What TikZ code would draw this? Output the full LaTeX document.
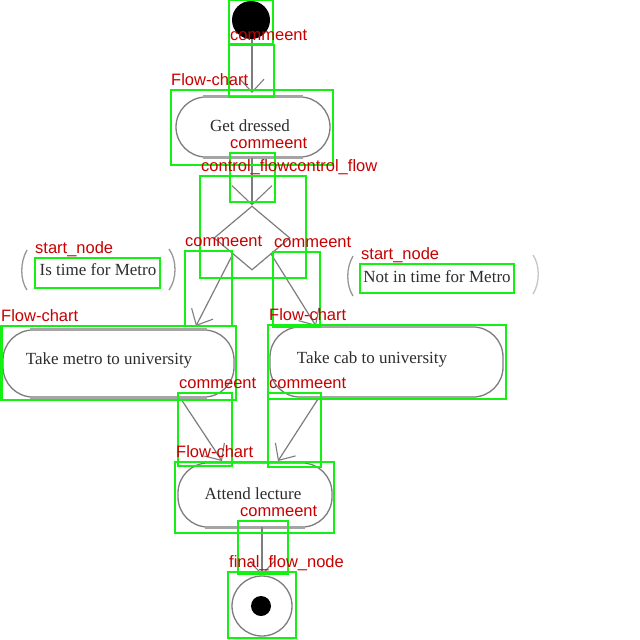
\documentclass[tikz,border=0pt]{standalone}
\usepackage{fontspec}
\setmainfont{Liberation Serif}
\newfontfamily\labfont{Liberation Sans}
\usetikzlibrary{shapes.geometric,arrows.meta}
\definecolor{annG}{RGB}{20,240,20}
\definecolor{annR}{RGB}{200,0,0}
\definecolor{lineG}{RGB}{125,125,125}
\definecolor{shadG}{RGB}{165,165,165}
\definecolor{txtG}{RGB}{45,45,45}
\begin{document}
\begin{tikzpicture}[x=1pt,y=-1pt,
  stad/.style={draw=lineG, line width=1.3pt, rounded corners=30pt, inner sep=0pt},
  shad/.style={draw=shadG, line width=3pt},
  dtext/.style={text=txtG, font=\fontsize{17}{18}\selectfont, inner sep=0pt},
  flow/.style={draw=lineG, line width=1.2pt, -{Straight Barb[length=13pt,width=24pt,line width=1.1pt]}},
  bigflow/.style={draw=lineG, line width=1.2pt, -{Straight Barb[length=19pt,width=40pt,line width=1.1pt]}},
  brk/.style={draw=lineG!80, line width=1.3pt},
  annbox/.style={draw=annG, line width=2.8pt},
  annlab/.style={text=annR, font=\labfont\fontsize{16.5}{17}\selectfont, anchor=base west, inner sep=0pt}
]
\useasboundingbox[fill=white] (0,0) rectangle (640,640);

% ---------- diagram ----------
\node[circle, fill=black, minimum size=38pt, inner sep=0pt] (start) at (251,20) {};
\node[stad, minimum width=154pt, minimum height=60pt] (dress) at (253,127) {};
\node[dtext] (dresst) at (250,126) {Get dressed};
\node[diamond, draw=lineG, line width=1.2pt, minimum width=76pt, minimum height=64pt, inner sep=0pt] (dec) at (252,238) {};
\node[stad, minimum width=231pt, minimum height=67pt] (metro) at (118.5,363.5) {};
\node[dtext] (metrot) at (109,360) {Take metro to university};
\node[stad, minimum width=233pt, minimum height=70pt] (cab) at (386.5,362) {};
\node[dtext] (cabt) at (372,359) {Take cab to university};
\node[stad, minimum width=154pt, minimum height=64pt] (lect) at (255,495) {};
\node[dtext] (lectt) at (253,494) {Attend lecture};
\node[circle, draw=lineG, line width=1.3pt, minimum size=60pt, inner sep=0pt] (fin) at (262,606) {};
\node[circle, fill=black, minimum size=20pt, inner sep=0pt] (findot) at (261,606) {};

% shadow strokes on the straight edges of the action states
\foreach \n in {dress,metro,cab,lect}{
  \draw[shad] ([xshift=28pt]\n.north west) -- ([xshift=-28pt]\n.north east);
  \draw[shad] ([xshift=28pt]\n.south west) -- ([xshift=-28pt]\n.south east);
}

% guards
\node[dtext] (g1) at (98,270) {Is time for Metro};
\node[dtext] (g2) at (437,277) {Not in time for Metro};
\draw[brk] (27,250) .. controls (20,262) and (20,280) .. (27,290);
\draw[brk] (169,249) .. controls (177,260) and (177,279) .. (169,290);
\draw[brk] (353,256) .. controls (346,268) and (346,285) .. (353,296);
\draw[brk, draw=lineG!45] (533,255) .. controls (540,265) and (540,283) .. (533,294);

% connectors
\coordinate (c1) at (252,93);
\draw[flow] (start.south -| c1) -- (c1);
\coordinate (c2) at (252,206);
\draw[bigflow] (dress.south -| c2) -- (dec.north);
\coordinate (m1) at (196,326);
\draw[flow] (dec.south west) -- (m1);
\coordinate (k1) at (316,326);
\draw[flow] (dec.south east) -- (k1);
\coordinate (m2) at (181,399);
\coordinate (l1) at (222,461);
\draw[flow] (m2) -- (l1);
\coordinate (k2) at (318,399);
\coordinate (l2) at (278,461);
\draw[flow] (k2) -- (l2);
\coordinate (f1) at (262,527);
\draw[flow] (f1) -- (fin.north);

% ---------- annotations ----------
\draw[annbox] (229,0) rectangle (273,44);
\draw[annbox] (229,45) rectangle (274,97);
\node[annlab] (a1) at (230,40) {commeent};
\draw[annbox] (171,90) rectangle (333,165);
\node[annlab] (a2) at (171,85) {Flow-chart};
\draw[annbox] (230,153) rectangle (275,202);
\node[annlab] (a3) at (230,148) {commeent};
\draw[annbox] (200,176) rectangle (306,278);
\node[annlab] (a4) at (201,171) {control\_flowcontrol\_flow};
\draw[annbox] (35,258) rectangle (160,288);
\node[annlab] (a5) at (35,253) {start\_node};
\draw[annbox] (185,251) rectangle (232,326);
\node[annlab] (a6) at (185,246) {commeent};
\draw[annbox] (273,252) rectangle (320,327);
\node[annlab] (a7) at (274,247) {commeent};
\draw[annbox] (360,264) rectangle (514,293);
\node[annlab] (a8) at (361,259) {start\_node};
\draw[annbox] (1.4,326) rectangle (236,400);
\node[annlab] (a9) at (1,321) {Flow-chart};
\draw[annbox] (268,325) rectangle (506,399);
\node[annlab] (a10) at (269,320) {Flow-chart};
\draw[annbox] (178,393) rectangle (232,466);
\node[annlab] (a11) at (179,388) {commeent};
\draw[annbox] (268,393) rectangle (321,467);
\node[annlab] (a12) at (269,388) {commeent};
\draw[annbox] (175,462) rectangle (334,533);
\node[annlab] (a13) at (176,457) {Flow-chart};
\draw[annbox] (238,521) rectangle (288,574);
\node[annlab] (a14) at (240,516) {commeent};
\draw[annbox] (228,572) rectangle (296,638);
\node[annlab] (a15) at (229,567) {final\_flow\_node};
\end{tikzpicture}
\end{document}
